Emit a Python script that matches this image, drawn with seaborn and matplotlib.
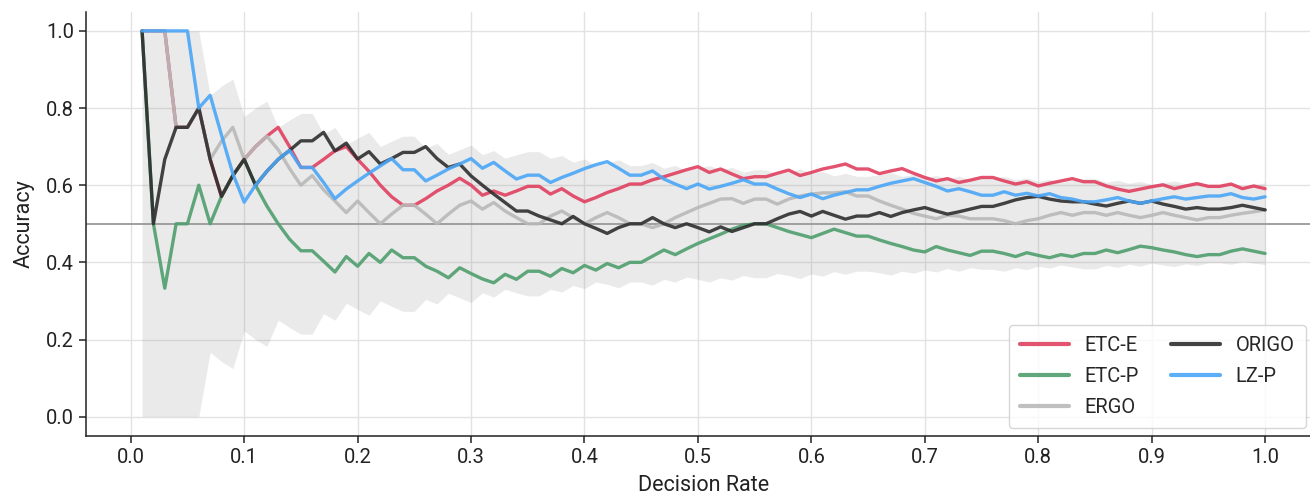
import matplotlib
matplotlib.use("Agg")
import matplotlib.pyplot as plt
import numpy as np
import pandas as pd
import seaborn as sb

# decision rates 0.01 .. 1.00
rates = [round(0.01 * i, 2) for i in range(1, 101)]

etc_e = [1.0, 1.0, 1.0, 0.75, 0.75, 0.80, 0.667, 0.571, 0.625, 0.667,
         0.70, 0.727, 0.75, 0.70, 0.646, 0.646, 0.667, 0.689, 0.70, 0.667,
         0.636, 0.60, 0.57, 0.548, 0.548, 0.565, 0.585, 0.60, 0.618, 0.60,
         0.574, 0.585, 0.574, 0.585, 0.597, 0.597, 0.577, 0.591, 0.572, 0.557,
         0.568, 0.581, 0.591, 0.603, 0.603, 0.614, 0.622, 0.631, 0.64, 0.648,
         0.633, 0.642, 0.629, 0.617, 0.622, 0.622, 0.631, 0.639, 0.625, 0.633,
         0.642, 0.648, 0.655, 0.642, 0.642, 0.63, 0.637, 0.643, 0.631, 0.62,
         0.611, 0.617, 0.607, 0.613, 0.62, 0.62, 0.611, 0.603, 0.609, 0.598,
         0.605, 0.611, 0.617, 0.609, 0.609, 0.598, 0.59, 0.584, 0.59, 0.596,
         0.601, 0.591, 0.598, 0.604, 0.597, 0.597, 0.603, 0.591, 0.598, 0.591]

etc_p = [1.0, 0.5, 0.333, 0.5, 0.5, 0.6, 0.5, 0.571, 0.625, 0.667,
         0.60, 0.546, 0.50, 0.46, 0.43, 0.43, 0.403, 0.375, 0.415, 0.39,
         0.423, 0.40, 0.432, 0.412, 0.412, 0.39, 0.377, 0.36, 0.386, 0.371,
         0.357, 0.347, 0.369, 0.356, 0.377, 0.377, 0.364, 0.384, 0.373, 0.392,
         0.38, 0.397, 0.386, 0.40, 0.40, 0.416, 0.432, 0.42, 0.435, 0.449,
         0.461, 0.473, 0.486, 0.496, 0.50, 0.50, 0.49, 0.48, 0.472, 0.464,
         0.475, 0.486, 0.477, 0.468, 0.468, 0.458, 0.449, 0.441, 0.432, 0.427,
         0.441, 0.432, 0.425, 0.418, 0.429, 0.429, 0.423, 0.415, 0.425, 0.418,
         0.412, 0.42, 0.415, 0.423, 0.423, 0.432, 0.425, 0.433, 0.442, 0.438,
         0.432, 0.427, 0.42, 0.415, 0.42, 0.42, 0.429, 0.435, 0.429, 0.423]

ergo = [1.0, 1.0, 1.0, 0.75, 0.75, 0.80, 0.667, 0.714, 0.75, 0.667,
        0.70, 0.727, 0.692, 0.643, 0.60, 0.625, 0.588, 0.559, 0.529, 0.559,
        0.529, 0.50, 0.525, 0.548, 0.548, 0.525, 0.50, 0.525, 0.548, 0.559,
        0.538, 0.555, 0.533, 0.516, 0.50, 0.50, 0.52, 0.533, 0.516, 0.50,
        0.516, 0.529, 0.516, 0.50, 0.50, 0.49, 0.50, 0.516, 0.529, 0.542,
        0.553, 0.564, 0.565, 0.553, 0.564, 0.564, 0.551, 0.564, 0.572, 0.577,
        0.58, 0.58, 0.583, 0.572, 0.572, 0.559, 0.548, 0.538, 0.527, 0.52,
        0.513, 0.522, 0.52, 0.513, 0.513, 0.513, 0.508, 0.50, 0.508, 0.513,
        0.522, 0.529, 0.522, 0.529, 0.529, 0.522, 0.529, 0.522, 0.516, 0.522,
        0.529, 0.522, 0.516, 0.51, 0.516, 0.516, 0.522, 0.527, 0.531, 0.536]

origo = [1.0, 0.5, 0.667, 0.75, 0.75, 0.80, 0.667, 0.571, 0.625, 0.667,
         0.60, 0.636, 0.667, 0.69, 0.715, 0.715, 0.737, 0.689, 0.709, 0.668,
         0.687, 0.655, 0.669, 0.685, 0.685, 0.70, 0.669, 0.646, 0.655, 0.624,
         0.60, 0.577, 0.555, 0.533, 0.533, 0.52, 0.51, 0.50, 0.519, 0.50,
         0.488, 0.475, 0.49, 0.50, 0.50, 0.516, 0.50, 0.49, 0.50, 0.49,
         0.479, 0.492, 0.48, 0.49, 0.50, 0.50, 0.513, 0.525, 0.532, 0.52,
         0.532, 0.522, 0.512, 0.52, 0.52, 0.529, 0.519, 0.529, 0.536, 0.542,
         0.533, 0.525, 0.531, 0.538, 0.545, 0.545, 0.553, 0.562, 0.568, 0.571,
         0.564, 0.559, 0.557, 0.557, 0.551, 0.546, 0.553, 0.559, 0.553, 0.559,
         0.551, 0.545, 0.538, 0.542, 0.538, 0.538, 0.542, 0.548, 0.542, 0.536]

lz_p = [1.0, 1.0, 1.0, 1.0, 1.0, 0.80, 0.833, 0.73, 0.63, 0.556,
        0.60, 0.636, 0.667, 0.69, 0.646, 0.646, 0.607, 0.565, 0.59, 0.611,
        0.631, 0.65, 0.669, 0.64, 0.64, 0.611, 0.626, 0.642, 0.655, 0.669,
        0.644, 0.659, 0.637, 0.616, 0.626, 0.626, 0.607, 0.62, 0.631, 0.643,
        0.653, 0.661, 0.644, 0.626, 0.626, 0.637, 0.616, 0.603, 0.591, 0.603,
        0.59, 0.597, 0.605, 0.614, 0.603, 0.603, 0.59, 0.578, 0.568, 0.577,
        0.565, 0.574, 0.581, 0.588, 0.588, 0.597, 0.605, 0.611, 0.617, 0.607,
        0.597, 0.585, 0.591, 0.583, 0.574, 0.574, 0.583, 0.574, 0.579, 0.572,
        0.578, 0.568, 0.564, 0.557, 0.557, 0.562, 0.568, 0.559, 0.553, 0.559,
        0.565, 0.57, 0.564, 0.568, 0.572, 0.572, 0.578, 0.568, 0.564, 0.57]

# lower edge of the grey random-guess band (upper edge mirrors it around 0.5)
band_low = [0.0, 0.0, 0.0, 0.0, 0.0, 0.0, 0.167, 0.143, 0.125, 0.222,
            0.20, 0.182, 0.25, 0.231, 0.214, 0.214, 0.267, 0.25, 0.294, 0.278,
            0.263, 0.30, 0.286, 0.273, 0.273, 0.304, 0.292, 0.32, 0.308, 0.296,
            0.321, 0.31, 0.33, 0.321, 0.313, 0.313, 0.33, 0.323, 0.34, 0.332,
            0.349, 0.343, 0.334, 0.349, 0.349, 0.341, 0.356, 0.349, 0.362, 0.356,
            0.349, 0.36, 0.354, 0.366, 0.36, 0.36, 0.371, 0.366, 0.358, 0.37,
            0.364, 0.376, 0.369, 0.377, 0.377, 0.373, 0.367, 0.377, 0.372, 0.38,
            0.375, 0.384, 0.377, 0.386, 0.382, 0.382, 0.377, 0.386, 0.381, 0.39,
            0.385, 0.393, 0.388, 0.383, 0.383, 0.392, 0.387, 0.395, 0.39, 0.398,
            0.393, 0.389, 0.396, 0.392, 0.399, 0.399, 0.395, 0.402, 0.398, 0.394]

methods = ["ETC-E", "ETC-P", "ERGO", "ORIGO", "LZ-P"]
colours = ["#E0405F", "#4F9E6E", "#B8B8B8", "#2E2E2E", "#4AA6F7"]

series = dict(zip(methods, [etc_e, etc_p, ergo, origo, lz_p]))
df = pd.concat([pd.DataFrame({"rate": rates, "acc": v, "method": m}) for m, v in series.items()])

sb.set_theme(style="ticks")
plt.rcParams["font.family"] = ["Roboto", "DejaVu Sans"]

fig = plt.figure(figsize=(13.1, 5.04), dpi=100)
ax = fig.add_axes([0.0656, 0.135, 0.943, 0.842])

band_high = [1 - b for b in band_low]
ax.fill_between(rates, band_low, band_high, color="#888888", alpha=0.17, lw=0, zorder=1)
ax.axhline(0.5, color="#999999", lw=1.3, zorder=1.5)

sb.lineplot(data=df, x="rate", y="acc", hue="method", hue_order=methods,
            palette=colours, lw=2.4, alpha=0.9, ax=ax, zorder=3)

ax.set_xlim(-0.0395, 1.0495)
ax.set_ylim(-0.05, 1.05)
ax.set_xticks(np.arange(0, 1.01, 0.1))
ax.set_yticks(np.arange(0, 1.01, 0.2))
ax.set_xticklabels([f"{t:.1f}" for t in np.arange(0, 1.01, 0.1)])
ax.set_yticklabels([f"{t:.1f}" for t in np.arange(0, 1.01, 0.2)])
ax.grid(True, color="#E2E2E2", lw=1.0)
ax.set_axisbelow(True)
ax.tick_params(labelsize=14.5, length=5, width=1.1, colors="#222222")
ax.set_xlabel("Decision Rate", fontsize=15.5, color="#222222", labelpad=6)
ax.set_ylabel("Accuracy", fontsize=15.5, color="#222222", labelpad=8)
for s in ["left", "bottom"]:
    ax.spines[s].set_color("#222222")
    ax.spines[s].set_linewidth(1.1)
sb.despine(ax=ax)

leg = ax.legend(loc="lower right", ncol=2, fontsize=14.5, frameon=True, fancybox=True,
                handlelength=2.4, handletextpad=0.8, columnspacing=1.6,
                borderpad=0.55, labelspacing=0.6, borderaxespad=0.4,
                bbox_to_anchor=(0.994, 0.0))
leg.get_frame().set_edgecolor("#CCCCCC")
for line in leg.get_lines():
    line.set_linewidth(3)

fig.savefig("out.png", dpi=100)
